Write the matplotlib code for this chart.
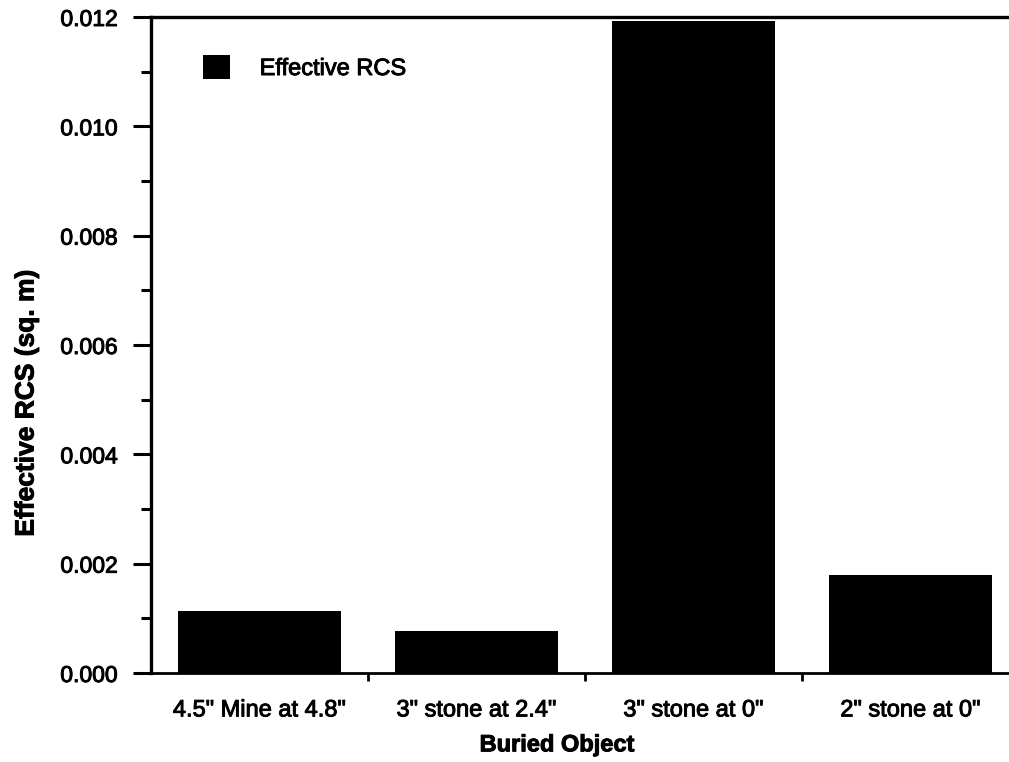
import matplotlib
matplotlib.use("Agg")
import matplotlib.pyplot as plt
import matplotlib.patheffects as pe
from matplotlib.font_manager import FontProperties
from matplotlib.ticker import MultipleLocator, FixedLocator, NullFormatter

categories = ['4.5" Mine at 4.8"', '3" stone at 2.4"', '3" stone at 0"', '2" stone at 0"']
rcs_values = [0.00114, 0.00077, 0.01193, 0.00180]
y_ticks = [0.000, 0.002, 0.004, 0.006, 0.008, 0.010, 0.012]

plt.rcParams['font.family'] = ['Liberation Sans', 'DejaVu Sans']
heavy = [pe.withStroke(linewidth=0.7, foreground='black')]

fig = plt.figure(figsize=(10.09, 7.62), dpi=100)
ax = fig.add_axes([151 / 1009, 1 - 673 / 762, 868 / 1009, (673 - 17) / 762])

x = list(range(len(categories)))
ax.bar(x, rcs_values, width=0.75, color='black', label='Effective RCS', zorder=3)

ax.set_xlim(-0.5, len(categories) - 0.5)
ax.set_ylim(0, 0.012)

# y axis: labelled majors, unlabelled minors halfway between
ax.yaxis.set_major_locator(FixedLocator(y_ticks))
ax.set_yticklabels([f"{v:.3f}" for v in y_ticks])
ax.yaxis.set_minor_locator(MultipleLocator(0.001))
ax.tick_params(axis='y', which='major', direction='out', length=13, width=2.2,
               pad=11, labelsize=16.5)
ax.tick_params(axis='y', which='minor', direction='out', length=7, width=2.2)

# x axis: small tick marks between categories, labels centred under bars
ax.xaxis.set_major_locator(FixedLocator([i + 0.5 for i in x[:-1]]))
ax.xaxis.set_major_formatter(NullFormatter())
ax.xaxis.set_minor_locator(FixedLocator(x))
ax.set_xticklabels(categories, minor=True)
ax.tick_params(axis='x', which='major', direction='out', length=6, width=2)
ax.tick_params(axis='x', which='minor', length=0, pad=19, labelsize=17)

for lbl in ax.get_yticklabels() + ax.get_xticklabels(minor=True):
    lbl.set_path_effects(heavy)

ax.spines['left'].set_linewidth(2.4)
ax.spines['top'].set_linewidth(2.4)
ax.spines['bottom'].set_linewidth(2.0)
ax.spines['right'].set_visible(False)

bold_y = FontProperties(family='Liberation Sans', weight='bold', size=19)
bold_x = FontProperties(family='Liberation Sans', weight='bold', size=17)
ylab = ax.set_ylabel('Effective RCS (sq. m)', fontproperties=bold_y)
xlab = ax.set_xlabel('Buried Object', fontproperties=bold_x)
ax.yaxis.set_label_coords(-0.1296, 0.4116)
ax.xaxis.set_label_coords(0.4677, -0.092)
ylab.set_path_effects(heavy)
xlab.set_path_effects(heavy)

leg = ax.legend(loc='upper left', bbox_to_anchor=(0.0354, 0.974), frameon=False,
                fontsize=17, handlelength=1.15, handleheight=1.15, handletextpad=1.25)
for t in leg.get_texts():
    t.set_path_effects(heavy)

fig.savefig('out.png', dpi=100)
